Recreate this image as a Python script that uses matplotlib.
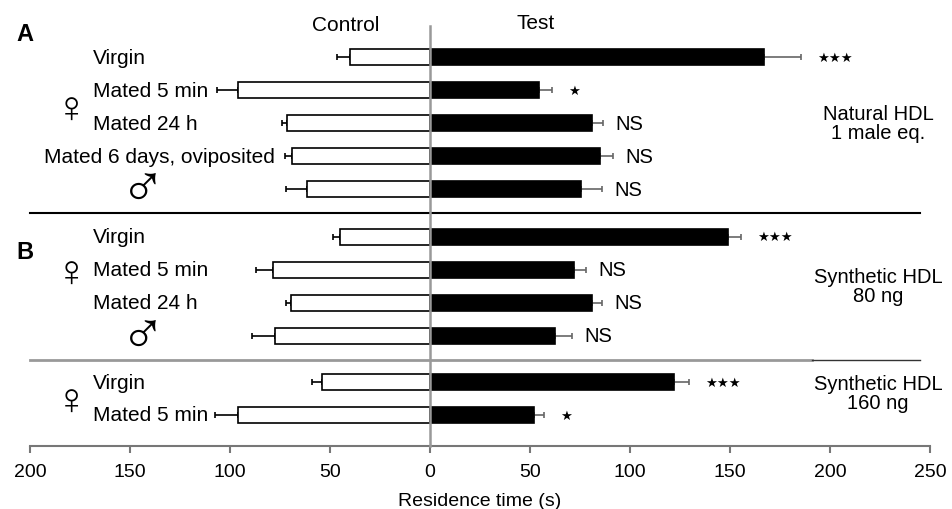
import numpy as np
import matplotlib.pyplot as plt
from matplotlib.ticker import FuncFormatter

plt.rcParams['font.family'] = ['Liberation Sans', 'DejaVu Sans']

# A: natural HDL, 1 male eq.
labels_a = ['Virgin', 'Mated 5 min', 'Mated 24 h', 'Mated 6 days, oviposited', '♂']
control_a = [40, 96, 71.5, 69, 61.5]
control_err_a = [6.5, 10.5, 2.5, 3.5, 10.5]
test_a = [167, 54.5, 81, 85, 75.5]
test_err_a = [18.5, 6.5, 5.5, 6.5, 10.5]
sig_a = ['***', '*', 'NS', 'NS', 'NS']

# B: synthetic HDL, 80 ng
labels_b = ['Virgin', 'Mated 5 min', 'Mated 24 h', '♂']
control_b = [45, 78.5, 69.5, 77.5]
control_err_b = [3.5, 8.5, 2.5, 11.5]
test_b = [149, 72, 81, 62.5]
test_err_b = [6.5, 6, 5, 8.5]
sig_b = ['***', 'NS', 'NS', 'NS']

# synthetic HDL, 160 ng
labels_c = ['Virgin', 'Mated 5 min']
control_c = [54, 96]
control_err_c = [5, 11.5]
test_c = [122, 52]
test_err_c = [7.5, 5]
sig_c = ['***', '*']

group_notes = ['Natural HDL\n1 male eq.', 'Synthetic HDL\n80 ng', 'Synthetic HDL\n160 ng']
panel_letters = ['A', 'B', None]

groups = [
    (labels_a, control_a, control_err_a, test_a, test_err_a, sig_a),
    (labels_b, control_b, control_err_b, test_b, test_err_b, sig_b),
    (labels_c, control_c, control_err_c, test_c, test_err_c, sig_c),
]
group_start = [0, 5.45, 9.85]

fig = plt.figure(figsize=(9.52, 5.10), dpi=100)
ax = fig.add_axes([30 / 952, 63 / 510, 900 / 952, 447 / 510])
ax.set_xlim(-200, 250)
ax.set_ylim(11.79, -1.76)

fs = 15
for gi, (labs, ctrl, cerr, test, terr, sig) in enumerate(groups):
    y = group_start[gi] + np.arange(len(labs))
    ctrl = np.array(ctrl)
    cerr = np.array(cerr)
    test = np.array(test)
    terr = np.array(terr)

    ax.barh(y, -ctrl, height=0.5, color='white', edgecolor='black', linewidth=1.2, zorder=2)
    ax.barh(y, test, height=0.5, color='black', edgecolor='black', linewidth=1.2, zorder=2)
    ax.errorbar(-ctrl, y, xerr=[cerr, np.zeros_like(cerr)], fmt='none', ecolor='black',
                elinewidth=1.2, capsize=2.5, capthick=1.2, zorder=1)
    ax.errorbar(test, y, xerr=[np.zeros_like(terr), terr], fmt='none', ecolor='#666666',
                elinewidth=1.2, capsize=2.5, capthick=1.2, zorder=1)

    for i, lab in enumerate(labs):
        if lab == '♂':
            ax.text(-143.5, y[i] + 0.08, lab, fontsize=44, ha='center', va='center')
        elif len(lab) > 12:
            ax.text(-(ctrl[i] + cerr[i]) - 5, y[i], lab, fontsize=fs, ha='right', va='center')
        else:
            ax.text(-168.5, y[i], lab, fontsize=fs, ha='left', va='center')

        s = sig[i]
        if s.startswith('*'):
            ax.text(test[i] + terr[i] + 8, y[i], '★' * len(s), fontsize=9.5,
                    ha='left', va='center', family=['DejaVu Sans'])
        else:
            ax.text(test[i] + terr[i] + 6, y[i], s, fontsize=fs - 0.5, ha='left', va='center')

    # female symbol beside the female rows
    fem = [yy for yy, lab in zip(y, labs) if lab != '♂']
    ax.text(-179.5, np.mean(fem) + 0.1, '♀', fontsize=32, ha='center', va='center')

    ax.text(224, np.mean([y[0], y[-1]]) if gi < 2 else np.mean(y) - 0.17, group_notes[gi],
            fontsize=fs - 0.5, ha='center', va='center', linespacing=1.0, clip_on=False)

    if panel_letters[gi]:
        ax.text(-207, y[0] - 0.72 if gi == 0 else y[0] + 0.43, panel_letters[gi], fontsize=17,
                fontweight='bold', ha='left', va='center')

    if gi < 2:
        sep = y[-1] + 0.72
        if gi == 0:
            ax.plot([-200, 245], [sep, sep], color='black', lw=1.5, clip_on=False, zorder=1)
        else:
            ax.plot([-200, 191], [sep, sep], color='#999999', lw=2, clip_on=False, zorder=1)
            ax.plot([191, 245], [sep, sep], color='#333333', lw=1, clip_on=False, zorder=1)

ax.plot([0, 0], [-0.94, 11.79], color='#999999', lw=1.8, zorder=3, clip_on=False)

ax.text(-42, -1.0, 'Control', fontsize=fs, ha='center', va='center')
ax.text(53, -1.05, 'Test', fontsize=fs, ha='center', va='center')

for side in ['top', 'right', 'left']:
    ax.spines[side].set_visible(False)
ax.spines['bottom'].set_color('#777777')
ax.spines['bottom'].set_linewidth(1.5)
ax.set_yticks([])
ax.set_xticks(np.arange(-200, 251, 50))
ax.xaxis.set_major_formatter(FuncFormatter(lambda v, p: f'{abs(v):.0f}'))
ax.tick_params(axis='x', direction='out', length=5, width=1.5, color='#777777',
               labelsize=14, pad=7)
ax.set_xlabel('Residence time (s)', fontsize=14, labelpad=9)

fig.savefig('out.png', dpi=100)
